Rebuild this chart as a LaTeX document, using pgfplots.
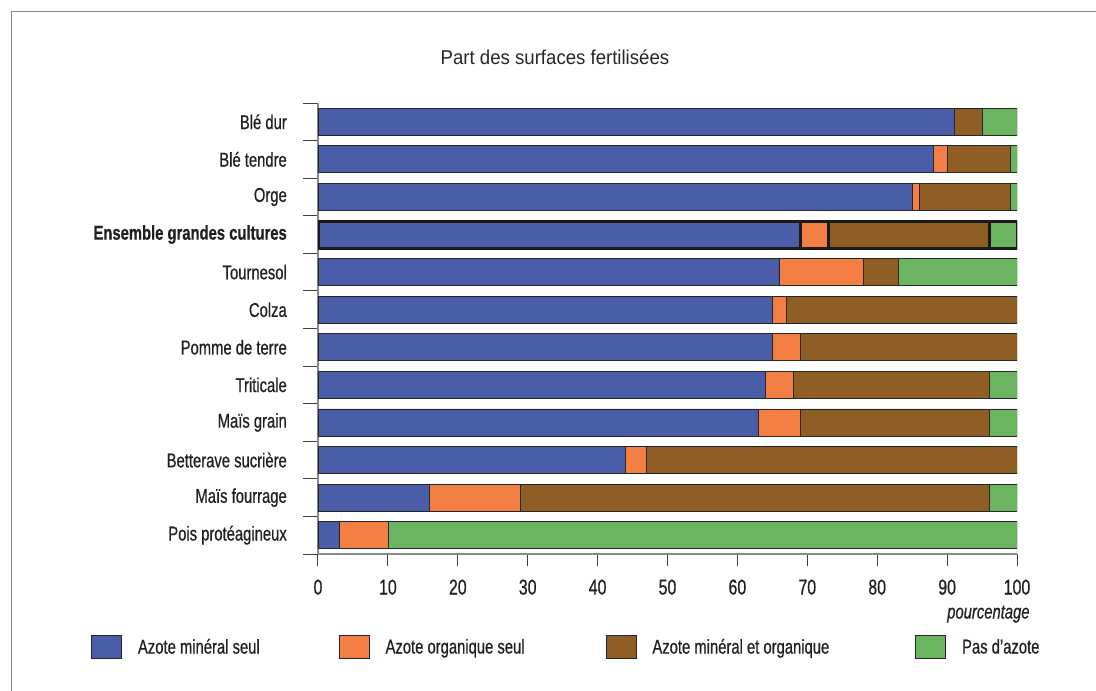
\documentclass[border=0pt]{standalone}
\usepackage{pgfplots}
\usepackage{pgfplotstable}
\pgfplotsset{compat=1.18}
\usepackage{fontspec}
\setmainfont{Liberation Sans}
\newfontfamily\cond[FakeStretch=0.74, FakeBold=0.6]{Liberation Sans}
\newfontfamily\titlefont[FakeStretch=0.93]{Liberation Sans}
\definecolor{cblue}{HTML}{4A5DA8}
\definecolor{corange}{HTML}{F47F45}
\definecolor{cbrown}{HTML}{8F5E24}
\definecolor{cgreen}{HTML}{6CB560}
\definecolor{txt}{HTML}{231F20}
\definecolor{axgray}{HTML}{8A8A8A}

\pgfplotstableread{
y min org both none
0 91 0 4 5
1 88 2 9 1
2 85 1 13 1
3 69 4 23 4
4 66 12 5 17
5 65 2 33 0
6 65 4 31 0
7 64 4 28 4
8 63 6 27 4
9 44 3 53 0
10 16 13 67 4
11 3 7 0 90
}\datatab

\pgfplotstableread{
y min org both none
3 69 4 23 4
}\enstab

\pgfplotsset{
  myleg/.style={legend image code/.code={\draw[##1, line width=0.8pt] (0pt,-11.5pt) rectangle (30pt,11.5pt); \path (46pt,0pt);}},
}

\begin{document}
\begin{tikzpicture}
\begin{axis}[
  at={(318pt,137pt)}, anchor=south west,
  scale only axis, width=699pt, height=451pt,
  xbar stacked, bar width=27pt,
  xmin=0, xmax=100, ymin=-0.5, ymax=11.5, y dir=reverse,
  axis x line*=bottom, axis y line*=left,
  axis line style={draw=axgray, line width=1.2pt, -},
  tick align=outside,
  major tick length=12pt,
  tick style={draw=black!75, line width=1pt},
  xtick={0,10,...,100},
  ytick={-0.5,0.5,...,11.5},
  yticklabels={{},{},{},{},{},{},{},{},{},{},{},{},{}},
  extra y ticks={0,1,2,3,4,5,6,7,8,9,10,11},
  extra y tick labels={Blé dur,Blé tendre,Orge,{\bfseries Ensemble grandes cultures},Tournesol,Colza,Pomme de terre,Triticale,Maïs grain,Betterave sucrière,Maïs fourrage,Pois protéagineux},
  extra y tick style={tick style={draw=none}},
  ytick style={/pgfplots/major tick length=15pt},
  /pgf/number format/assume math mode=true,
  xticklabel style={font=\cond\fontsize{21.5}{25}\selectfont, text=txt, yshift=-10pt},
  yticklabel style={font=\cond\fontsize{20}{24}\selectfont, text=txt, inner sep=0pt, xshift=-19pt},
  title={Part des surfaces fertilisées},
  title style={at={(axis description cs:0.339,1.071)}, anchor=base, font=\titlefont\fontsize{20}{24}\selectfont, text=black!85},
  xlabel={pourcentage},
  xlabel style={at={(axis description cs:1.023,-0.143)}, anchor=base east, font=\cond\itshape\fontsize{20}{24}\selectfont, text=txt},
  legend style={at={(axis description cs:-0.3247,-0.2062)}, anchor=west, draw=none, fill=none, legend columns=4, inner sep=0pt,
    nodes={inner sep=0pt, font=\cond\fontsize{20}{24}\selectfont, text=txt},
    /tikz/column 2/.style={column sep=79pt},
    /tikz/column 4/.style={column sep=81pt},
    /tikz/column 6/.style={column sep=86pt}},
]
\addplot[fill=cblue, draw=black!85, line width=0.8pt, myleg] table[x=min, y=y] {\datatab};
\addlegendentry{Azote minéral seul}
\addplot[fill=corange, draw=black!85, line width=0.8pt, myleg] table[x=org, y=y] {\datatab};
\addlegendentry{Azote organique seul}
\addplot[fill=cbrown, draw=black!85, line width=0.8pt, myleg] table[x=both, y=y] {\datatab};
\addlegendentry{Azote minéral et organique}
\addplot[fill=cgreen, draw=black!85, line width=0.8pt, myleg] table[x=none, y=y] {\datatab};
\addlegendentry{Pas d’azote}
\end{axis}
\begin{axis}[
  at={(318pt,137pt)}, anchor=south west,
  scale only axis, width=699pt, height=451pt,
  hide axis,
  xbar stacked, bar width=27pt,
  xmin=0, xmax=100, ymin=-0.5, ymax=11.5, y dir=reverse,
]
\addplot[fill=cblue, draw=black!90, line width=3pt] table[x=min, y=y] {\enstab};
\addplot[fill=corange, draw=black!90, line width=3pt] table[x=org, y=y] {\enstab};
\addplot[fill=cbrown, draw=black!90, line width=3pt] table[x=both, y=y] {\enstab};
\addplot[fill=cgreen, draw=black!90, line width=3pt] table[x=none, y=y] {\enstab};
\end{axis}
\pgfresetboundingbox
\useasboundingbox (0,0) rectangle (1096pt,691pt);
\draw[axgray, line width=1.2pt] (11.5pt,0pt) -- (11.5pt,679.5pt) -- (1096pt,679.5pt);
\end{tikzpicture}
\end{document}
